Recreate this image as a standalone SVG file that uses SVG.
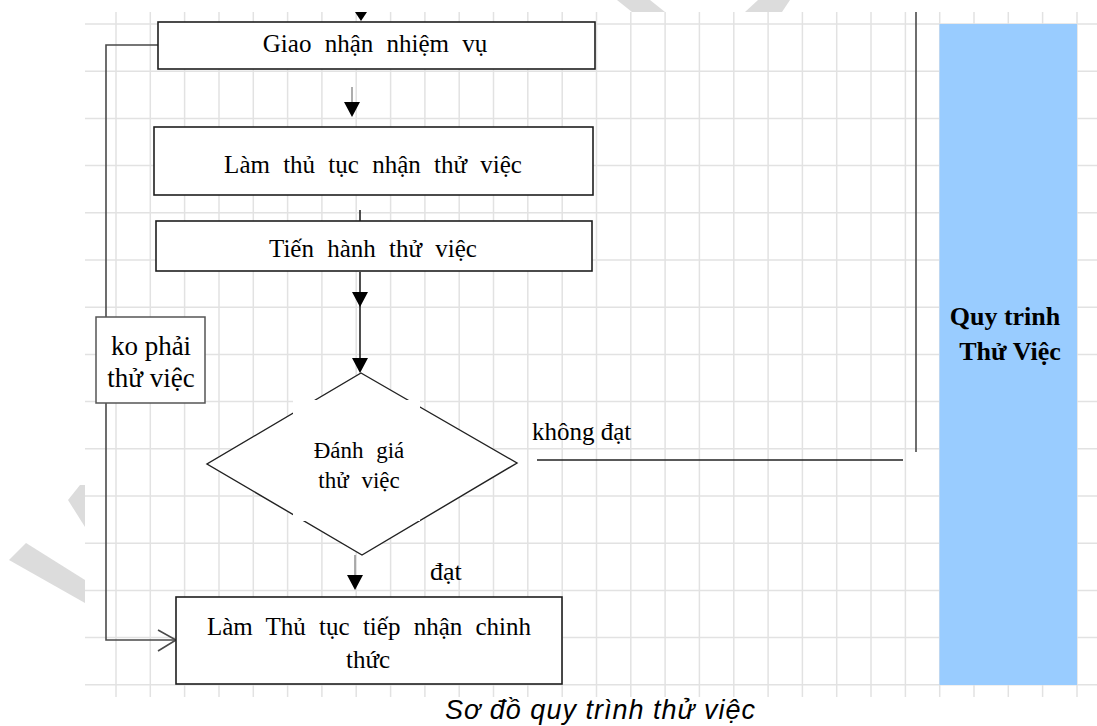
<svg xmlns="http://www.w3.org/2000/svg" width="1097" height="726" viewBox="0 0 1097 726">
  <style>
    .wm { fill: #dcdcdc; }
    .grid { stroke: #e2e2e2; stroke-width: 1.5; fill: none; }
    .box { fill: #ffffff; stroke: #1e1e1e; stroke-width: 1.6; }
    .note { fill: #ffffff; stroke: #555555; stroke-width: 1.5; }
    .lbl { font-family: "Liberation Serif", "Times New Roman", serif; fill: #000000; }
    .big { font-size: 25px; word-spacing: 7px; }
    .mid { font-size: 23px; word-spacing: 7px; }
    .side { font-size: 27px; }
    .title { font-size: 26px; font-weight: bold; }
    .cap { font-family: "Liberation Sans", Arial, sans-serif; font-style: italic; font-size: 27px; letter-spacing: 1px; fill: #000000; }
    .wire { stroke: #222222; stroke-width: 1.6; fill: none; }
    .wire-soft { stroke: #4a4a4a; stroke-width: 1.6; fill: none; }
    .wire-light { stroke: #8a8a8a; stroke-width: 1.4; fill: none; }
    .head { fill: #000000; }
  </style>
  <defs>
    <!-- filled arrowhead, tip at the origin, pointing down -->
    <path id="ah" class="head" d="M-8,-15 L8,-15 L0,0 Z"/>
  </defs>

  <rect x="0" y="0" width="1097" height="726" fill="#ffffff"/>

  <!-- faint background marks around the sheet edge -->
  <g id="marks">
    <polygon class="wm" points="617,0 650,0 665,12 632,12"/>
    <polygon class="wm" points="745,12 782,12 790,0 758,0"/>
    <polygon class="wm" points="68,500 80,485 85,485 85,527"/>
    <polygon class="wm" points="9,560 26,543 85,580 85,603"/>
  </g>

  <!-- sheet with grid -->
  <g id="sheet">
    <rect x="85" y="12" width="1012" height="685" fill="#ffffff"/>
    <path class="grid" d="M116 12V697 M150.3 12V697 M184.6 12V697 M219 12V697 M253.3 12V697 M287.6 12V697 M321.9 12V697 M356.2 12V697 M390.6 12V697 M424.9 12V697 M459.2 12V697 M493.5 12V697 M527.8 12V697 M562.2 12V697 M596.5 12V697 M630.8 12V697 M665.1 12V697 M699.4 12V697 M733.8 12V697 M768.1 12V697 M802.4 12V697 M836.7 12V697 M871 12V697 M905.4 12V697 M939.7 12V697 M974 12V697 M1008.3 12V697 M1042.6 12V697 M1077 12V697"/>
    <path class="grid" d="M85 24H1097 M85 71.2H1097 M85 118.4H1097 M85 165.6H1097 M85 212.8H1097 M85 260H1097 M85 307.2H1097 M85 354.4H1097 M85 401.6H1097 M85 448.8H1097 M85 496H1097 M85 543.2H1097 M85 590.4H1097 M85 637.6H1097 M85 684.8H1097"/>
  </g>

  <!-- side title band -->
  <g id="band">
    <rect x="939.5" y="24" width="137.5" height="661" fill="#99ccff"/>
    <text class="lbl title" x="1005" y="325" text-anchor="middle">Quy trinh</text>
    <text class="lbl title" x="1010" y="360" text-anchor="middle">Thử Việc</text>
  </g>

  <!-- connectors -->
  <g id="connectors">
    <!-- incoming arrow at the top -->
    <path class="head" d="M355,12 L367,12 L361,21 Z"/>
    <!-- Giao nhận -> Làm thủ tục -->
    <path class="wire-light" d="M352 87V102"/>
    <use href="#ah" x="352" y="117"/>
    <!-- Làm thủ tục -> Tiến hành -->
    <path class="wire" d="M360 210V221"/>
    <!-- Tiến hành -> Đánh giá -->
    <path class="wire" d="M360 272V362"/>
    <use href="#ah" x="360" y="307"/>
    <use href="#ah" x="360" y="373"/>
    <!-- đạt -> Làm Thủ tục tiếp nhận -->
    <path class="wire-light" d="M355 555V578"/>
    <use href="#ah" x="355" y="590"/>
    <!-- không đạt return -->
    <path class="wire" d="M537 460H903"/>
    <path class="wire-soft" d="M916 12V452"/>
    <!-- bypass: ko phải thử việc -->
    <path class="wire-soft" d="M158 45H106V640H175"/>
    <path class="wire-soft" d="M158,630 L176,640 L158,651"/>
  </g>

  <!-- nodes -->
  <g id="giao-nhan">
    <rect class="box" x="158" y="22" width="437" height="47"/>
    <text class="lbl big" x="375" y="52" text-anchor="middle">Giao nhận nhiệm vụ</text>
  </g>

  <g id="lam-thu-tuc">
    <rect class="box" x="154" y="127" width="439" height="68"/>
    <text class="lbl big" x="373" y="173" text-anchor="middle">Làm thủ tục nhận thử việc</text>
  </g>

  <g id="tien-hanh">
    <rect class="box" x="156" y="221" width="436" height="50"/>
    <text class="lbl big" x="373" y="257" text-anchor="middle">Tiến hành thử việc</text>
  </g>

  <g id="danh-gia">
    <polygon fill="#ffffff" stroke="#222222" stroke-width="1.4" points="361,373 517,463 362,555 207,464"/>
    <rect x="293" y="400" width="127" height="121" fill="#ffffff"/>
    <text class="lbl mid" x="359" y="458" text-anchor="middle">Đánh giá</text>
    <text class="lbl mid" x="359" y="488" text-anchor="middle">thử việc</text>
  </g>

  <g id="ko-phai">
    <rect class="note" x="96" y="317" width="109" height="86"/>
    <text class="lbl side" x="151" y="355" text-anchor="middle">ko phải</text>
    <text class="lbl side" x="151" y="387" text-anchor="middle">thử việc</text>
  </g>

  <g id="tiep-nhan">
    <rect class="box" x="176" y="597" width="386" height="87"/>
    <text class="lbl big" x="369" y="635" text-anchor="middle">Làm Thủ tục tiếp nhận chinh</text>
    <text class="lbl big" x="368" y="668" text-anchor="middle">thức</text>
  </g>

  <!-- branch labels -->
  <g id="labels">
    <text class="lbl" font-size="25" x="532" y="440">không đạt</text>
    <text class="lbl" font-size="26" x="430" y="580">đạt</text>
  </g>

  <text class="cap" x="445" y="719">Sơ đồ quy trình thử việc</text>
</svg>
